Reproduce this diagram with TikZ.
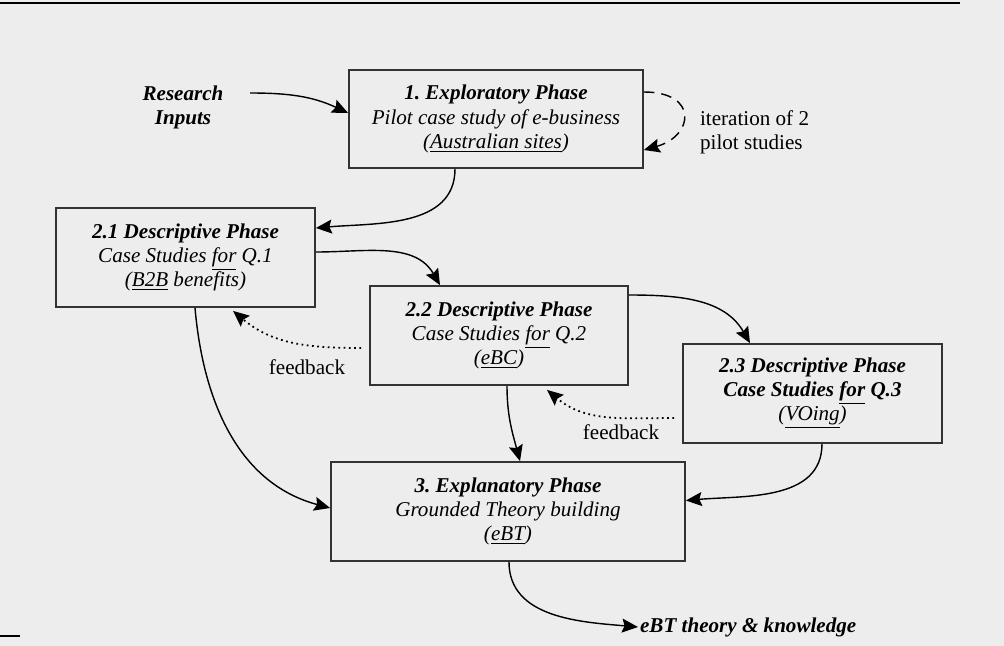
\documentclass[tikz,border=0pt]{standalone}
\usepackage{fontspec}
\setmainfont{Liberation Serif}
\usepackage{tikz}
\usetikzlibrary{positioning}
\usetikzlibrary{arrows.meta}
\definecolor{paper}{RGB}{237,237,237}
\frenchspacing
\tikzset{
  phase/.style = {draw=black!80, line width=1pt, align=center, inner sep=0pt,
    font=\fontsize{12}{13.7}\selectfont\itshape},% case de phase
  flow/.style = {->, line width=0.8pt},% lien plein
  back/.style = {->, line width=1pt, dotted},% retour (feedback)
  loop/.style = {->, line width=0.8pt, dash pattern=on 6pt off 4pt},% iteration
  note/.style = {font=\fontsize{12}{13.7}\selectfont, align=left, inner sep=1pt},
  hd/.style = {font=\fontsize{12}{13.7}\selectfont\bfseries\itshape, align=center,
    inner sep=1pt}
}

\begin{document}
\begin{tikzpicture}[x=0.2mm,y=-0.2mm,
  >={Stealth[length=3.2mm,width=2.8mm,inset=0.5mm]}]
\fill[paper] (0,0) rectangle (1004,646);
\useasboundingbox (0,0) rectangle (1004,646);
\draw[line width=1.3pt] (0,3) -- (960,3);
\draw[line width=0.8pt] (0,636) -- (20,636);

\node [phase, minimum width=58.8mm, minimum height=19.6mm] (b1) at (496,119)
  {\textbf{1. Exploratory Phase}\\ Pilot case study of e-business\\
   (\underline{Australian sites})};
\node [phase, minimum width=51.8mm, minimum height=19.8mm] (b21) at (185.5,257.5)
  {\textbf{2.1 Descriptive Phase}\\ Case Studies \underline{for} Q.1\\
   (\underline{B2B} benefits)};
\node [phase, minimum width=51.6mm, minimum height=19.8mm] (b22) at (499,335.5)
  {\textbf{2.2 Descriptive Phase}\\ Case Studies \underline{for} Q.2\\
   (\underline{eBC})};
\node [phase, minimum width=51.8mm, minimum height=19.8mm] (b23) at (812.5,393.5)
  {\textbf{2.3 Descriptive Phase}\\ \textbf{Case Studies \underline{for} Q.3}\\
   (\underline{VOing})};
\node [phase, minimum width=70.8mm, minimum height=19.8mm] (b3) at (508,511.5)
  {\textbf{3. Explanatory Phase}\\ Grounded Theory building\\
   (\underline{eBT})};

\node [hd] (ri) at (183,107) {Research\\Inputs};
\coordinate (rstart) at (250,93);
\node [note, anchor=west] (iter) at (698,132) {iteration of 2\\pilot studies};
\node [note] (fb1) at (307,367) {feedback};
\node [note] (fb2) at (621,432) {feedback};
\node [hd, anchor=west] (kn) at (638,627) {eBT theory \& knowledge};

% liens
\draw [flow] (rstart) to[out=0,in=155] ([yshift=1.2mm]b1.west);
\draw [loop] ([yshift=5.4mm]b1.east) .. controls +(55,0) and +(50,-14) ..
  ([yshift=-6.2mm]b1.east);
\draw [flow] ([xshift=-8.2mm]b1.south) to[out=-90,in=5] ([yshift=5.9mm]b21.east);
\draw [flow] ([yshift=1.1mm]b21.east) to[out=0,in=120] ([xshift=-11.8mm]b22.north);
\draw [flow] ([yshift=8.1mm]b22.east) to[out=0,in=120] ([xshift=-12.5mm]b23.north);
\draw [back] ([xshift=-1.6mm,yshift=-2.5mm]b22.west) to[out=180,in=-40]
  ([xshift=9.5mm,yshift=-0.6mm]b21.south);
\draw [back] ([xshift=-1.6mm,yshift=-4.9mm]b23.west) to[out=180,in=-40]
  ([xshift=9.6mm,yshift=-0.8mm]b22.south);
\draw [flow] ([xshift=1.9mm]b21.south) to[out=-85,in=165] ([yshift=0.7mm]b3.west);
\draw [flow] ([xshift=1.6mm]b22.south) to[out=-90,in=105] ([xshift=2.4mm]b3.north);
\draw [flow] ([xshift=1.9mm]b23.south) to[out=-90,in=5] ([yshift=2.2mm]b3.east);
\draw [flow] ([xshift=0.2mm]b3.south) to[out=-90,in=175] (kn.west);
\end{tikzpicture}
\end{document}
